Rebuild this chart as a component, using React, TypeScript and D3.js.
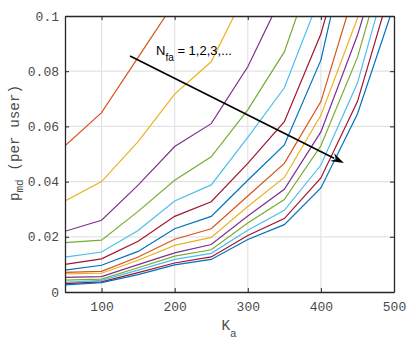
import React, { useRef, useEffect } from 'react';
import * as d3 from 'd3';

// x positions (number of active users)
const kaValues = [50, 100, 150, 200, 250, 300, 350, 400, 450, 500];

// p_md per user for N_fa = 1,2,3,... (points above 0.1 are clipped)
const series: number[][] = [
  [0.053, 0.065, 0.085, 0.105],
  [0.033, 0.040, 0.0545, 0.0717, 0.0834, 0.110],
  [0.022, 0.026, 0.0387, 0.0527, 0.061, 0.0816, 0.109],
  [0.0179, 0.0188, 0.0292, 0.0405, 0.049, 0.066, 0.087, 0.125],
  [0.0126, 0.0145, 0.0223, 0.033, 0.0388, 0.056, 0.074, 0.108],
  [0.010, 0.012, 0.0184, 0.0274, 0.0327, 0.0466, 0.0617, 0.0935, 0.14],
  [0.0079, 0.0097, 0.0147, 0.0229, 0.0274, 0.0405, 0.0533, 0.084, 0.142],
  [0.0071, 0.0075, 0.0127, 0.0191, 0.0229, 0.0348, 0.0466, 0.069, 0.1126],
  [0.0066, 0.0068, 0.0115, 0.0169, 0.0198, 0.031, 0.0415, 0.064, 0.0992, 0.16],
  [0.0053, 0.0056, 0.0099, 0.0142, 0.0172, 0.0275, 0.0372, 0.058, 0.093, 0.137],
  [0.0043, 0.0047, 0.0088, 0.013, 0.0153, 0.025, 0.0335, 0.053, 0.085, 0.131],
  [0.0035, 0.0042, 0.0079, 0.0118, 0.014, 0.0224, 0.0296, 0.046, 0.0757, 0.123],
  [0.003, 0.0037, 0.007, 0.0105, 0.0127, 0.0205, 0.0266, 0.0413, 0.069, 0.114],
  [0.0026, 0.0034, 0.0063, 0.0098, 0.0118, 0.019, 0.0244, 0.0377, 0.0645, 0.104],
];

// MATLAB colour order, starting from the 2nd colour
const colors = ['#D95319', '#EDB120', '#7E2F8E', '#77AC30', '#4DBEEE', '#A2142F', '#0072BD'];

const xTicks = [100, 200, 300, 400, 500];
const yTicks = [0, 0.02, 0.04, 0.06, 0.08, 0.1];
const yTickLabels = ['0', '0.02', '0.04', '0.06', '0.08', '0.1'];

// arrow annotation, in data units
const arrowFrom = { ka: 139, p: 0.0855 };
const arrowTo = { ka: 431.5, p: 0.0467 };

function App() {
  const svgRef = useRef<SVGSVGElement | null>(null);
  const width = 416;
  const height = 344;

  useEffect(() => {
    const svg = d3.select(svgRef.current);
    svg.selectAll('*').remove();

    const margin = { top: 16, right: 22, bottom: 52, left: 65 };
    const innerWidth = width - margin.left - margin.right;
    const innerHeight = height - margin.top - margin.bottom;

    const x = d3.scaleLinear().domain([50, 500]).range([0, innerWidth]);
    const y = d3.scaleLinear().domain([0, 0.1]).range([innerHeight, 0]);

    svg.append('rect').attr('width', width).attr('height', height).attr('fill', '#fff');

    svg.append('defs').append('clipPath').attr('id', 'plot-clip')
      .append('rect').attr('width', innerWidth).attr('height', innerHeight);

    const g = svg.append('g').attr('transform', `translate(${margin.left},${margin.top})`);

    // grid
    g.selectAll('.vgrid').data(xTicks.filter(t => t < 500)).enter().append('line')
      .attr('x1', d => x(d)).attr('x2', d => x(d))
      .attr('y1', 0).attr('y2', innerHeight)
      .attr('stroke', '#e3e3e3').attr('stroke-width', 1.2);
    g.selectAll('.hgrid').data(yTicks.filter(t => t > 0 && t < 0.1)).enter().append('line')
      .attr('y1', d => y(d)).attr('y2', d => y(d))
      .attr('x1', 0).attr('x2', innerWidth)
      .attr('stroke', '#e3e3e3').attr('stroke-width', 1.2);

    // data lines
    const line = d3.line<number>()
      .x((_, i) => x(kaValues[i]))
      .y(d => y(d));

    g.append('g').attr('clip-path', 'url(#plot-clip)')
      .selectAll('path').data(series).enter().append('path')
      .attr('d', d => line(d))
      .attr('fill', 'none')
      .attr('stroke', (_, i) => colors[i % colors.length])
      .attr('stroke-width', 1.2);

    // axes (box with inward ticks on all sides)
    const axisColor = '#262626';
    const tickFont = "'Liberation Mono', 'DejaVu Sans Mono', monospace";

    const xb = g.append('g').attr('transform', `translate(0,${innerHeight})`)
      .call(d3.axisBottom(x).tickValues(xTicks).tickSizeInner(-4).tickSizeOuter(0).tickPadding(10));
    const yl = g.append('g')
      .call(d3.axisLeft(y).tickValues(yTicks).tickFormat((_, i) => yTickLabels[i]).tickSizeInner(-4).tickSizeOuter(0).tickPadding(6));
    const xt = g.append('g')
      .call(d3.axisTop(x).tickValues(xTicks).tickSizeInner(-4).tickSizeOuter(0).tickFormat(() => ''));
    const yr = g.append('g').attr('transform', `translate(${innerWidth},0)`)
      .call(d3.axisRight(y).tickValues(yTicks).tickSizeInner(-4).tickSizeOuter(0).tickFormat(() => ''));

    [xb, yl, xt, yr].forEach(a => {
      a.select('.domain').attr('stroke', axisColor).attr('stroke-width', 1.3);
      a.selectAll('.tick line').attr('stroke', axisColor).attr('stroke-width', 1);
      a.selectAll('.tick text').attr('fill', '#4a4a4a')
        .style('font-family', tickFont).style('font-size', '13px');
    });

    // x label K_a
    const xl = svg.append('text')
      .attr('x', margin.left + innerWidth / 2 - 8).attr('y', 330)
      .attr('fill', '#4a4a4a')
      .style('font-family', tickFont).style('font-size', '14.3px');
    xl.append('tspan').text('K');
    xl.append('tspan').attr('dy', 7).style('font-size', '11px').text('a');

    // y label p_md (per user)
    const ylab = svg.append('text')
      .attr('transform', `translate(19,${margin.top + innerHeight / 2 - 11}) rotate(-90)`)
      .attr('text-anchor', 'middle')
      .attr('fill', '#4a4a4a')
      .style('font-family', tickFont).style('font-size', '14.3px');
    ylab.append('tspan').text('p');
    ylab.append('tspan').attr('dy', 4).style('font-size', '11px').text('md');
    ylab.append('tspan').attr('dy', -4).text(' (per user)');

    // arrow annotation
    const x0 = x(arrowFrom.ka), y0 = y(arrowFrom.p);
    const x1 = x(arrowTo.ka), y1 = y(arrowTo.p);
    const ang = Math.atan2(y1 - y0, x1 - x0);
    const headLen = 11, headW = 4.5;
    const bx = x1 - headLen * Math.cos(ang), by = y1 - headLen * Math.sin(ang);
    g.append('line')
      .attr('x1', x0).attr('y1', y0).attr('x2', bx).attr('y2', by)
      .attr('stroke', '#000').attr('stroke-width', 1.6);
    const nx = -Math.sin(ang), ny = Math.cos(ang);
    const back = 2.5;
    const cx = bx + back * Math.cos(ang), cy = by + back * Math.sin(ang);
    g.append('path')
      .attr('d', `M${x1},${y1} L${bx + nx * headW - back * Math.cos(ang)},${by + ny * headW - back * Math.sin(ang)} L${cx},${cy} L${bx - nx * headW - back * Math.cos(ang)},${by - ny * headW - back * Math.sin(ang)} Z`)
      .attr('fill', '#000');

    // annotation text
    const note = g.append('text')
      .attr('x', x(arrowFrom.ka) + 26).attr('y', y(arrowFrom.p) - 1)
      .attr('fill', '#000')
      .style('font-family', "'Liberation Sans', Arial, sans-serif").style('font-size', '13px');
    note.append('tspan').text('N');
    note.append('tspan').attr('dy', 6).style('font-size', '10px').text('fa');
    note.append('tspan').attr('dy', -6).text(' = 1,2,3,...');
  }, []);

  return (
    <div style={{ position: 'absolute', left: 0, top: 0 }}>
      <svg ref={svgRef} width={width} height={height} style={{ display: 'block' }} />
    </div>
  );
}

export default App;
